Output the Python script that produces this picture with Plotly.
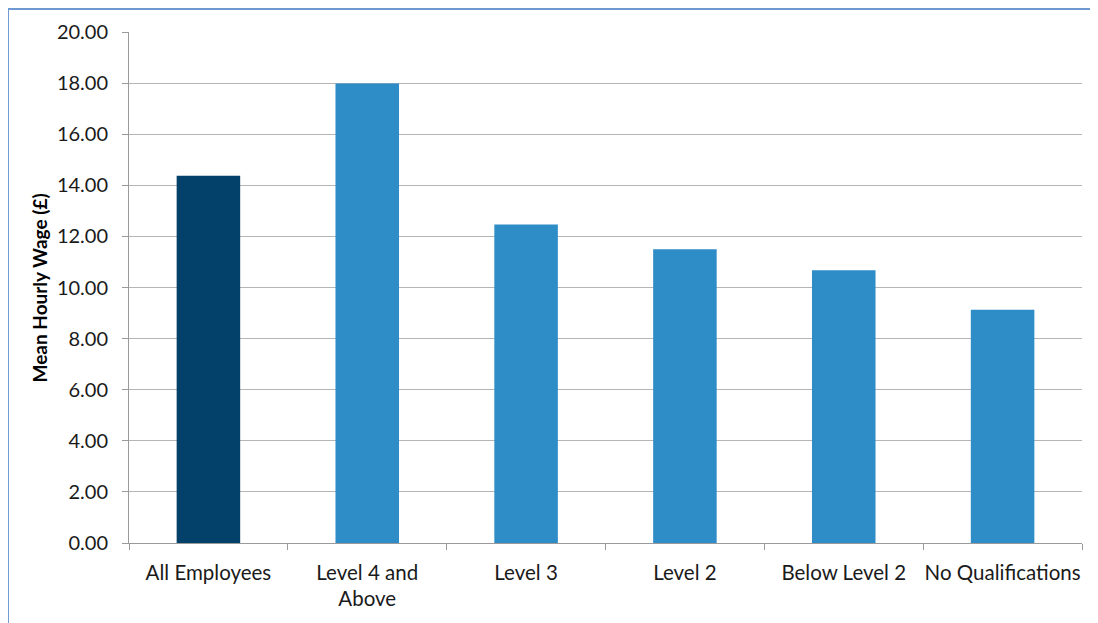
import plotly.graph_objects as go

categories = ["All Employees", "Level 4 and<br>Above", "Level 3", "Level 2", "Below Level 2", "No Qualifications"]
values = [14.37, 17.98, 12.47, 11.50, 10.68, 9.13]
colors = ["#03416A", "#2E8CC7", "#2E8CC7", "#2E8CC7", "#2E8CC7", "#2E8CC7"]
tick_vals = [0, 2, 4, 6, 8, 10, 12, 14, 16, 18, 20]
tick_text = ["%.2f" % v for v in tick_vals]

fig = go.Figure(go.Bar(x=categories, y=values, marker_color=colors, marker_line_width=0))

font_family = "Lato, Open Sans, sans-serif"
fig.update_layout(
    width=1090, height=615,
    margin=dict(l=121, r=16, t=24, b=80),
    paper_bgcolor="white", plot_bgcolor="white",
    bargap=0.6,
    showlegend=False,
    font=dict(family=font_family, size=20, color="#1a1a1a"),
)
fig.update_xaxes(
    showline=True, linecolor="#9a9a9a", linewidth=1,
    ticks="outside", tickson="boundaries", ticklen=6, tickcolor="#9a9a9a",
    tickfont=dict(size=20.5, family=font_family),
    tickangle=0, automargin=False,
    ticklabelstandoff=11,
    showgrid=False,
)
fig.update_yaxes(
    range=[0, 20], tickvals=tick_vals, ticktext=tick_text,
    showline=True, linecolor="#9a9a9a", linewidth=1,
    ticks="outside", ticklen=6, tickcolor="#9a9a9a",
    showgrid=True, gridcolor="#b5b5b5", gridwidth=1,
    zeroline=False, automargin=False,
    tickfont=dict(size=20, family=font_family),
    ticklabelstandoff=10,
)
fig.add_annotation(text="<b>Mean Hourly Wage (£)</b>", xref="paper", yref="paper",
                   x=-0.0934, y=0.5, xanchor="center", yanchor="middle",
                   textangle=-90, showarrow=False,
                   font=dict(size=19, family=font_family, color="#000000"))
# outer frame of the original chart (left and top edges)
fig.add_shape(type="line", xref="paper", yref="paper", x0=-0.127, x1=1.04, y0=1.045, y1=1.045,
              line=dict(color="#6E98D2", width=2))
fig.add_shape(type="line", xref="paper", yref="paper", x0=-0.127, x1=-0.127, y0=1.045, y1=-0.16,
              line=dict(color="#6E98D2", width=2))

fig.write_html("out.html")
